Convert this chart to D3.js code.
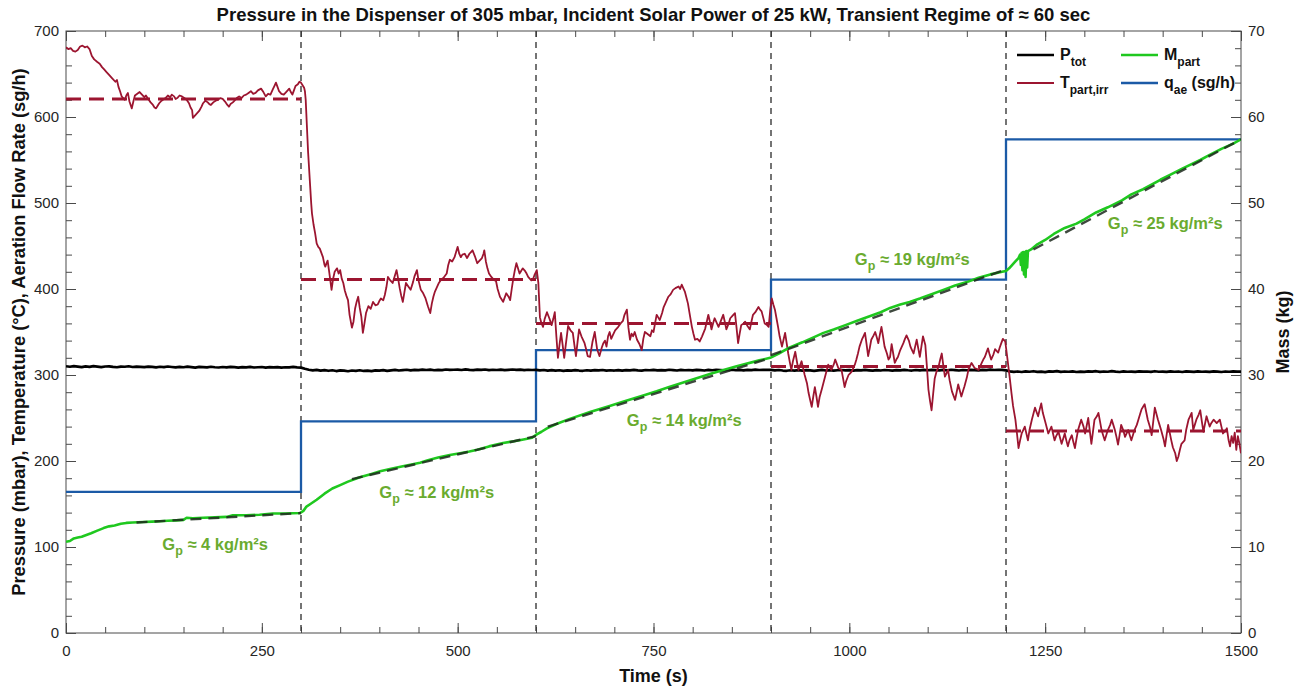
<!DOCTYPE html>
<html>
<head>
<meta charset="utf-8">
<script src="https://cdn.jsdelivr.net/npm/d3@7"></script>
<style>
  body { margin: 0; background: #fff; }
  svg { display: block; }
  text { font-family: Arial, "Liberation Sans", Helvetica, sans-serif; }
</style>
</head>
<body>
<svg id="chart" width="1298" height="687"></svg>
<script>
// ---------------- data ----------------
const chartTitle = "Pressure in the Dispenser of 305 mbar, Incident Solar Power of 25 kW, Transient Regime of \u2248 60 sec";
const xTitle = "Time (s)";
const yLeftTitle = "Pressure (mbar), Temperature (\u00B0C), Aeration Flow Rate (sg/h)";
const yRightTitle = "Mass (kg)";

const xMajorTicks = [0, 250, 500, 750, 1000, 1250, 1500];
const yLeftMajorTicks = [0, 100, 200, 300, 400, 500, 600, 700];
const yRightMajorTicks = [0, 10, 20, 30, 40, 50, 60, 70];

// regime boundaries (s)
const regimeTimes = [0, 300, 600, 900, 1200, 1500];
// aeration flow rate per regime (sg/h)
const aerationRate = [164, 246, 329, 411, 574];
// mean particle temperature per regime (°C)
const temperatureMean = [621, 411, 360, 310, 235];
// particle mass flux per regime (kg/m²s)
const massFlux = [4, 12, 14, 19, 25];
// linear fits of the mass trace per regime: [t0, m0, t1, m1]
const massFits = [
  [90, 12.85, 300, 13.95],
  [365, 17.9, 600, 22.9],
  [615, 24.0, 900, 32.0],
  [900, 32.3, 1200, 42.3],
  [1235, 44.6, 1500, 57.4]
];

// dispenser pressure (mbar), one value every 5 s from 0 to 1500 s
const pressureStep = 5;
const pressure = [
  310.2,309.6,310.4,309.8,309.1,310.0,309.5,310.3,309.7,309.2,309.9,310.1,309.4,309.0,309.8,309.6,310.2,309.3,309.7,309.5,
  309.1,309.8,309.4,308.9,309.6,309.2,309.9,309.3,308.8,309.5,309.0,309.7,309.1,308.6,309.4,309.2,308.9,309.6,309.0,308.7,
  309.3,308.8,309.5,309.1,308.6,309.2,308.9,309.4,308.7,309.0,309.3,308.5,309.1,308.8,309.2,308.6,309.0,308.9,309.4,308.8,
  308.6,307.2,306.1,305.4,306.0,305.1,305.7,304.9,305.5,304.6,305.3,305.0,304.4,305.2,304.8,305.5,304.7,305.1,304.5,305.3,
  305.0,305.6,304.8,305.4,305.9,305.2,305.7,306.1,305.4,306.0,305.6,306.3,305.8,306.2,305.5,306.0,305.7,306.4,305.9,306.1,
  306.3,305.8,306.5,306.0,305.7,306.2,305.9,306.4,305.6,306.1,305.8,306.3,305.7,306.0,306.4,305.9,306.2,305.6,306.1,305.8,
  306.0,305.3,305.8,305.1,305.6,305.0,305.5,304.8,305.4,305.1,305.7,305.2,304.9,305.5,305.0,305.6,305.3,305.8,305.1,305.5,
  305.2,305.7,305.0,305.6,305.3,305.9,305.4,305.1,305.8,305.5,306.0,305.3,305.7,305.4,306.1,305.6,305.2,305.9,305.5,305.8,
  305.4,306.0,305.6,305.2,305.9,305.5,306.1,305.7,305.3,305.8,306.2,305.6,305.9,305.4,306.0,305.7,306.3,305.8,306.1,305.9,
  306.0,305.4,305.8,305.2,304.9,305.5,305.1,305.7,305.0,305.6,305.3,304.8,305.4,305.9,305.2,305.6,305.0,305.5,305.8,305.3,
  305.6,305.1,305.7,305.3,305.9,305.4,305.0,305.6,305.2,305.8,305.5,305.1,305.7,305.4,306.0,305.5,305.2,305.8,305.4,305.9,
  305.5,306.0,305.6,305.3,305.9,305.4,306.1,305.7,305.2,305.8,305.5,306.0,305.6,305.3,305.9,305.7,306.2,305.8,306.0,305.9,
  305.4,304.2,303.6,304.1,303.5,304.3,303.8,304.4,303.7,304.0,303.4,304.2,303.9,304.5,303.6,304.1,303.8,304.3,303.5,304.0,
  303.7,304.2,303.9,304.4,303.6,304.1,303.8,304.5,303.9,303.5,304.2,303.8,304.0,303.6,304.3,303.9,304.1,303.7,304.4,303.8,
  304.0,303.6,304.3,303.8,304.1,303.5,304.2,303.9,303.7,304.3,303.8,304.0,303.6,304.2,303.9,303.5,304.1,303.8,304.3,303.9,
  304.0
];

// irradiated particle temperature: [time (s), temperature (°C)]
const temperatureTrace = [
  [0,681],[3,679],[6,680],[9,677],[12,676],[15,678],[18,682],[21,683],[24,681],[27,682],[30,679],[33,671],[36,667],[40,664],
  [43,662],[46,658],[49,655],[52,652],[55,649],[59,645],[63,641],[65,643],[67,635],[69,630],[71,624],[73,622],[75,620],[77,625],
  [79,628],[81,618],[84,610],[86,618],[88,625],[91,627],[94,629],[97,626],[100,623],[102,625],[105,621],[108,617],[111,614],
  [113,611],[115,610],[117,613],[119,616],[122,619],[125,621],[127,622],[130,625],[133,623],[135,626],[138,624],[140,621],
  [142,622],[145,625],[148,624],[151,622],[154,620],[157,616],[159,611],[161,608],[162,599],[164,601],[166,603],[168,605],
  [170,607],[173,612],[175,616],[178,619],[181,617],[183,615],[185,614],[188,617],[191,619],[194,620],[197,622],[200,621],
  [203,618],[206,614],[208,612],[210,615],[213,617],[216,620],[218,622],[221,624],[224,622],[227,625],[230,626],[233,628],
  [236,630],[239,627],[242,628],[245,631],[249,633],[252,629],[255,624],[258,627],[261,626],[264,632],[266,636],[268,640],
  [270,635],[272,630],[275,627],[278,626],[281,629],[285,633],[287,629],[289,626],[291,631],[293,636],[296,638],[298,641],
  [300,640],[302,637],[304,634],[305,630],[306,620],[307,600],[308,580],[309,560],[310,545],[311,530],[312,515],[313,500],
  [314,488],[316,475],[318,465],[320,453],[322,449],[324,447],[326,442],[328,437],[330,428],[331,426],[333,431],[334,433],
  [336,420],[339,399],[341,412],[343,420],[346,424],[348,418],[350,422],[352,412],[354,407],[356,398],[358,392],[360,387],
  [362,370],[365,355],[367,362],[369,377],[371,385],[373,391],[375,378],[377,368],[379,349],[381,360],[383,372],[386,380],
  [389,377],[392,385],[395,381],[398,382],[400,386],[402,389],[405,387],[407,393],[409,402],[411,414],[414,410],[417,407],
  [420,416],[422,422],[424,412],[426,401],[428,392],[430,385],[432,396],[434,407],[437,403],[440,399],[443,408],[445,415],
  [448,422],[450,410],[453,399],[456,395],[459,389],[462,380],[465,372],[467,383],[469,391],[471,397],[473,401],[476,407],
  [479,411],[482,413],[486,418],[488,428],[490,434],[493,432],[496,437],[498,443],[500,449],[502,441],[504,437],[506,440],
  [509,441],[512,436],[515,441],[517,443],[519,445],[522,438],[525,430],[528,433],[531,436],[533,441],[534,445],[536,432],
  [538,424],[540,418],[543,414],[546,411],[549,409],[551,400],[554,391],[556,388],[558,385],[560,390],[562,395],[565,391],
  [567,387],[569,400],[571,412],[573,422],[575,430],[577,424],[579,418],[581,421],[583,424],[586,421],[588,418],[590,414],
  [592,412],[594,410],[596,411],[598,416],[600,420],[601,422],[603,407],[605,367],[607,360],[609,356],[611,365],[614,373],
  [617,366],[620,358],[622,365],[624,373],[626,345],[628,320],[630,335],[632,349],[634,335],[636,320],[638,335],[641,357],
  [644,352],[647,349],[649,335],[651,322],[653,338],[655,353],[658,345],[662,337],[664,330],[666,322],[669,321],[672,338],
  [675,350],[678,330],[681,322],[684,332],[686,337],[688,340],[690,333],[692,345],[694,350],[696,342],[698,346],[701,352],
  [705,356],[708,360],[711,363],[713,370],[716,376],[718,355],[720,341],[722,348],[724,345],[726,350],[729,341],[732,336],
  [735,329],[737,342],[739,350],[742,348],[746,345],[748,352],[750,350],[752,360],[754,370],[756,367],[758,364],[761,372],
  [763,379],[766,385],[769,391],[772,394],[775,399],[778,401],[782,403],[784,400],[786,405],[788,401],[790,397],[792,390],
  [794,383],[796,372],[799,356],[801,348],[803,341],[806,342],[809,339],[812,345],[816,354],[818,362],[820,370],[822,362],
  [824,353],[826,360],[828,366],[830,362],[833,356],[836,363],[839,370],[841,362],[843,353],[846,360],[848,366],[851,369],
  [854,372],[856,355],[858,337],[860,348],[862,358],[865,360],[867,362],[870,357],[873,353],[875,362],[877,370],[880,373],
  [884,379],[886,376],[888,374],[890,367],[892,360],[895,358],[897,356],[899,375],[901,389],[903,382],[905,376],[907,366],
  [909,356],[911,345],[914,333],[916,341],[918,349],[920,337],[922,325],[924,315],[926,306],[928,316],[931,327],[933,316],
  [935,306],[937,311],[939,316],[941,308],[943,300],[946,290],[948,279],[950,271],[952,263],[954,275],[956,286],[958,275],
  [960,263],[962,274],[965,284],[967,291],[969,298],[971,305],[973,312],[975,309],[977,306],[980,312],[982,318],[984,313],
  [986,308],[988,307],[990,306],[992,296],[994,286],[996,293],[999,300],[1001,302],[1003,304],[1005,308],[1007,312],
  [1009,318],[1011,325],[1013,333],[1016,341],[1018,345],[1020,349],[1022,336],[1024,322],[1026,331],[1028,341],[1031,346],
  [1033,350],[1035,344],[1037,337],[1039,347],[1041,356],[1043,345],[1045,333],[1048,325],[1050,318],[1052,321],[1054,336],
  [1056,325],[1058,314],[1060,318],[1062,321],[1065,329],[1069,337],[1071,342],[1073,346],[1076,340],[1078,333],[1080,329],
  [1082,325],[1084,333],[1086,341],[1088,331],[1090,321],[1092,333],[1094,345],[1097,335],[1099,310],[1101,283],[1103,270],
  [1105,259],[1107,278],[1109,296],[1111,303],[1114,310],[1116,318],[1118,325],[1120,311],[1122,298],[1124,302],[1126,306],
  [1128,294],[1131,281],[1133,276],[1135,271],[1137,280],[1139,289],[1141,282],[1143,275],[1145,281],[1147,287],[1150,297],
  [1152,306],[1154,310],[1156,314],[1158,311],[1160,308],[1163,307],[1165,306],[1167,310],[1169,314],[1171,318],[1173,321],
  [1175,326],[1177,331],[1179,324],[1181,318],[1184,324],[1186,330],[1188,328],[1190,326],[1192,332],[1194,337],[1196,342],
  [1199,339],[1201,325],[1203,310],[1205,295],[1207,279],[1209,264],[1212,248],[1214,232],[1216,215],[1218,224],[1220,232],
  [1222,236],[1224,240],[1226,232],[1228,224],[1230,236],[1233,248],[1235,255],[1237,262],[1239,257],[1241,252],[1243,260],
  [1245,267],[1247,256],[1250,246],[1252,239],[1254,232],[1256,236],[1258,240],[1260,232],[1262,224],[1264,229],[1267,234],
  [1269,227],[1271,220],[1273,226],[1275,232],[1277,224],[1279,217],[1281,224],[1284,230],[1286,222],[1288,215],[1290,226],
  [1292,236],[1294,242],[1296,248],[1299,240],[1301,232],[1303,241],[1305,250],[1307,235],[1309,220],[1311,234],[1313,248],
  [1316,252],[1318,256],[1320,246],[1322,236],[1324,230],[1326,224],[1328,230],[1330,236],[1333,242],[1335,248],[1337,242],
  [1339,236],[1341,228],[1343,219],[1345,230],[1347,242],[1350,235],[1352,228],[1354,232],[1356,236],[1358,230],[1360,224],
  [1362,230],[1364,236],[1367,242],[1369,248],[1371,254],[1373,260],[1375,263],[1377,266],[1379,257],[1381,248],[1384,239],
  [1386,230],[1388,246],[1390,262],[1392,255],[1394,248],[1396,242],[1398,236],[1401,226],[1403,217],[1405,230],[1407,242],
  [1409,233],[1411,224],[1413,216],[1416,209],[1418,200],[1420,205],[1422,213],[1424,220],[1426,222],[1428,224],[1430,236],
  [1433,248],[1435,252],[1437,256],[1439,236],[1441,242],[1443,248],[1446,254],[1448,259],[1450,246],[1452,234],[1454,243],
  [1456,252],[1458,246],[1460,240],[1462,244],[1465,248],[1467,246],[1469,244],[1471,246],[1473,248],[1475,240],[1477,232],
  [1480,235],[1482,238],[1484,225],[1486,217],[1488,229],[1490,221],[1492,233],[1494,213],[1496,229],[1498,220],[1500,209]
];

// particle mass in the receiver: [time (s), mass (kg)]
const massTrace = [
  [0,10.6],[5,10.7],[10,11.0],[15,11.1],[20,11.2],[26,11.4],[32,11.6],[40,11.9],[48,12.2],[55,12.4],[62,12.5],[70,12.7],
  [77,12.8],[85,12.85],[99,12.9],[110,12.95],[120,13.0],[130,13.05],[141,13.1],[150,13.15],[154,13.4],[162,13.35],[175,13.4],
  [190,13.45],[205,13.5],[213,13.7],[230,13.7],[247,13.75],[264,13.9],[280,13.9],[299,13.95],[303,14.2],[307,14.7],[312,15.0],
  [320,15.5],[330,16.2],[340,16.8],[350,17.2],[360,17.6],[375,18.1],[390,18.5],[401,18.8],[415,19.1],[430,19.4],[452,19.8],
  [462,20.1],[475,20.4],[490,20.7],[503,20.9],[515,21.1],[525,21.3],[540,21.7],[558,22.1],[572,22.3],[584,22.5],[595,22.7],
  [601,23.1],[607,23.4],[614,23.8],[626,24.3],[643,24.9],[669,25.7],[694,26.4],[711,26.9],[740,27.7],[754,28.1],[770,28.6],
  [797,29.4],[825,30.2],[855,31.0],[885,31.7],[899,32.0],[910,32.5],[924,33.2],[940,33.8],[955,34.4],[967,34.9],[980,35.3],
  [995,35.8],[1010,36.3],[1025,36.8],[1040,37.3],[1052,37.8],[1065,38.2],[1077,38.5],[1090,38.9],[1105,39.4],[1120,39.9],
  [1135,40.4],[1150,40.8],[1165,41.3],[1180,41.7],[1195,42.0],[1200,42.1],[1204,42.4],[1208,42.8],[1212,43.2],[1216,43.6],
  [1218,44.0],[1219,42.8],[1220,44.2],[1221,42.2],[1222,44.3],[1223,41.7],[1224,44.3],[1225,41.4],[1226,44.4],[1227,42.5],
  [1228,44.4],[1232,44.6],[1240,45.2],[1250,45.7],[1261,46.4],[1275,47.1],[1290,47.6],[1300,48.1],[1315,48.9],[1330,49.5],
  [1348,50.3],[1360,51.0],[1375,51.6],[1397,52.7],[1410,53.3],[1425,54.0],[1448,55.0],[1460,55.6],[1475,56.3],[1490,56.9],
  [1500,57.4]
];

// ---------------- layout ----------------
const plot = { left: 66, right: 1241, top: 31, bottom: 633 };
const labelAnchors = [ // [time (s), left-axis value] of each flux label start (baseline)
  [123, 96], [400, 157], [716, 241], [1007, 428], [1330, 470]
];

const colors = {
  axis: "#4a4a4a",
  tickText: "#262626",
  pressure: "#000000",
  temperature: "#9c1530",
  mass: "#1fc81f",
  aeration: "#1b5aa6",
  fit: "#1e2a1e",
  regime: "#3a3a3a",
  flux: "#6aab2f"
};

const svg = d3.select("#chart");

const x = d3.scaleLinear().domain([0, 1500]).range([plot.left, plot.right]);
const yL = d3.scaleLinear().domain([0, 700]).range([plot.bottom, plot.top]);
const yR = d3.scaleLinear().domain([0, 70]).range([plot.bottom, plot.top]);

svg.append("defs").append("clipPath").attr("id", "plotClip")
  .append("rect")
  .attr("x", plot.left).attr("y", plot.top - 2)
  .attr("width", plot.right - plot.left).attr("height", plot.bottom - plot.top + 2);

// ---------------- axes ----------------
function styleAxis(g) {
  g.select(".domain").remove();
  g.selectAll(".tick line").attr("stroke", colors.axis).attr("stroke-width", 1);
  g.selectAll(".tick text")
    .attr("fill", colors.tickText)
    .style("font-size", "15px")
    .style("font-family", "Arial, 'Liberation Sans', sans-serif");
}

const range = (a, b, s) => d3.range(a, b + s / 2, s);

// bottom
svg.append("g").attr("transform", `translate(0,${plot.bottom})`)
  .call(d3.axisBottom(x).tickValues(range(0, 1500, 50)).tickSize(-6).tickFormat(""))
  .call(styleAxis);
svg.append("g").attr("transform", `translate(0,${plot.bottom})`)
  .call(d3.axisBottom(x).tickValues(xMajorTicks).tickSize(-10).tickPadding(12).tickFormat(d3.format("d")))
  .call(styleAxis);
// top
svg.append("g").attr("transform", `translate(0,${plot.top})`)
  .call(d3.axisTop(x).tickValues(range(0, 1500, 50)).tickSize(-6).tickFormat(""))
  .call(styleAxis);
svg.append("g").attr("transform", `translate(0,${plot.top})`)
  .call(d3.axisTop(x).tickValues(xMajorTicks).tickSize(-10).tickFormat(""))
  .call(styleAxis);
// left
svg.append("g").attr("transform", `translate(${plot.left},0)`)
  .call(d3.axisLeft(yL).tickValues(range(0, 700, 20)).tickSize(-6).tickFormat(""))
  .call(styleAxis);
svg.append("g").attr("transform", `translate(${plot.left},0)`)
  .call(d3.axisLeft(yL).tickValues(yLeftMajorTicks).tickSize(-10).tickPadding(7).tickFormat(d3.format("d")))
  .call(styleAxis);
// right
svg.append("g").attr("transform", `translate(${plot.right},0)`)
  .call(d3.axisRight(yR).tickValues(range(0, 70, 2)).tickSize(-6).tickFormat(""))
  .call(styleAxis);
svg.append("g").attr("transform", `translate(${plot.right},0)`)
  .call(d3.axisRight(yR).tickValues(yRightMajorTicks).tickSize(-10).tickPadding(7).tickFormat(d3.format("d")))
  .call(styleAxis);

// frame
svg.append("rect")
  .attr("x", plot.left).attr("y", plot.top)
  .attr("width", plot.right - plot.left).attr("height", plot.bottom - plot.top)
  .attr("fill", "none").attr("stroke", colors.axis).attr("stroke-width", 1);

// ---------------- titles ----------------
svg.append("text")
  .attr("x", (plot.left + plot.right) / 2).attr("y", 21)
  .attr("text-anchor", "middle")
  .style("font-size", "18.5px").style("font-weight", "bold").attr("fill", "#111")
  .text(chartTitle);

svg.append("text")
  .attr("x", (plot.left + plot.right) / 2).attr("y", 682)
  .attr("text-anchor", "middle")
  .style("font-size", "18px").style("font-weight", "bold").attr("fill", "#111")
  .text(xTitle);

svg.append("text")
  .attr("transform", `translate(25,${(plot.top + plot.bottom) / 2}) rotate(-90)`)
  .attr("text-anchor", "middle")
  .style("font-size", "18.3px").style("font-weight", "bold").attr("fill", "#111")
  .text(yLeftTitle);

svg.append("text")
  .attr("transform", `translate(1289,${(plot.top + plot.bottom) / 2}) rotate(-90)`)
  .attr("text-anchor", "middle")
  .style("font-size", "18px").style("font-weight", "bold").attr("fill", "#111")
  .text(yRightTitle);

// ---------------- marks ----------------
const marks = svg.append("g").attr("clip-path", "url(#plotClip)");

// regime change markers
marks.selectAll("line.regime")
  .data(regimeTimes.slice(1, -1))
  .join("line").attr("class", "regime")
  .attr("x1", d => x(d)).attr("x2", d => x(d))
  .attr("y1", yL(700)).attr("y2", yL(0))
  .attr("stroke", colors.regime).attr("stroke-width", 1.4)
  .attr("stroke-dasharray", "6,5");

// aeration flow rate (step)
const aerationPoints = aerationRate.map((v, i) => [regimeTimes[i], v])
  .concat([[regimeTimes[regimeTimes.length - 1], aerationRate[aerationRate.length - 1]]]);
marks.append("path")
  .datum(aerationPoints)
  .attr("fill", "none").attr("stroke", colors.aeration).attr("stroke-width", 2.3)
  .attr("d", d3.line().x(d => x(d[0])).y(d => yL(d[1])).curve(d3.curveStepAfter));

// pressure
marks.append("path")
  .datum(pressure.map((v, i) => [i * pressureStep, v]))
  .attr("fill", "none").attr("stroke", colors.pressure).attr("stroke-width", 2.7)
  .attr("stroke-linejoin", "round")
  .attr("d", d3.line().x(d => x(d[0])).y(d => yL(d[1])));

// particle temperature
marks.append("path")
  .datum(temperatureTrace)
  .attr("fill", "none").attr("stroke", colors.temperature).attr("stroke-width", 1.8)
  .attr("stroke-linejoin", "round")
  .attr("d", d3.line().x(d => x(d[0])).y(d => yL(d[1])));

// mean temperature per regime
marks.selectAll("line.tmean")
  .data(temperatureMean.map((v, i) => ({ t0: regimeTimes[i], t1: regimeTimes[i + 1], v })))
  .join("line").attr("class", "tmean")
  .attr("x1", d => x(d.t0)).attr("x2", d => x(d.t1))
  .attr("y1", d => yL(d.v)).attr("y2", d => yL(d.v))
  .attr("stroke", colors.temperature).attr("stroke-width", 3)
  .attr("stroke-dasharray", "15,8");

// mass
marks.append("path")
  .datum(massTrace)
  .attr("fill", "none").attr("stroke", colors.mass).attr("stroke-width", 2.6)
  .attr("stroke-linejoin", "round")
  .attr("d", d3.line().x(d => x(d[0])).y(d => yR(d[1])));

// mass linear fits
marks.selectAll("line.mfit")
  .data(massFits)
  .join("line").attr("class", "mfit")
  .attr("x1", d => x(d[0])).attr("y1", d => yR(d[1]))
  .attr("x2", d => x(d[2])).attr("y2", d => yR(d[3]))
  .attr("stroke", colors.fit).attr("stroke-width", 2.4)
  .attr("stroke-dasharray", "11,7")
  .attr("opacity", 0.85);

// flux labels
massFlux.forEach((g, i) => {
  const [t, v] = labelAnchors[i];
  const txt = svg.append("text")
    .attr("x", x(t)).attr("y", yL(v))
    .attr("fill", colors.flux)
    .style("font-size", "16.5px").style("font-weight", "bold");
  txt.append("tspan").text("G");
  txt.append("tspan").attr("dy", 5).style("font-size", "12.5px").text("p");
  txt.append("tspan").attr("dy", -5).text(` \u2248 ${g} kg/m\u00B2s`);
});

// ---------------- legend ----------------
const legendItems = [
  { main: "P", sub: "tot", tail: "", color: colors.pressure, width: 2.7, col: 0, row: 0 },
  { main: "M", sub: "part", tail: "", color: colors.mass, width: 2.6, col: 1, row: 0 },
  { main: "T", sub: "part,irr", tail: "", color: colors.temperature, width: 1.8, col: 0, row: 1 },
  { main: "q", sub: "ae", tail: " (sg/h)", color: colors.aeration, width: 2.3, col: 1, row: 1 }
];
const legendCols = [1017, 1121];
const legendRows = [55, 83];
legendItems.forEach(it => {
  const lx = legendCols[it.col], ly = legendRows[it.row];
  svg.append("line")
    .attr("x1", lx).attr("x2", lx + 37).attr("y1", ly).attr("y2", ly)
    .attr("stroke", it.color).attr("stroke-width", it.width);
  const txt = svg.append("text")
    .attr("x", lx + 43).attr("y", ly + 5)
    .attr("fill", "#111")
    .style("font-size", "16px").style("font-weight", "bold");
  txt.append("tspan").text(it.main);
  txt.append("tspan").attr("dy", 6).style("font-size", "12px").text(it.sub);
  if (it.tail) txt.append("tspan").attr("dy", -6).text(it.tail);
});
</script>
</body>
</html>
